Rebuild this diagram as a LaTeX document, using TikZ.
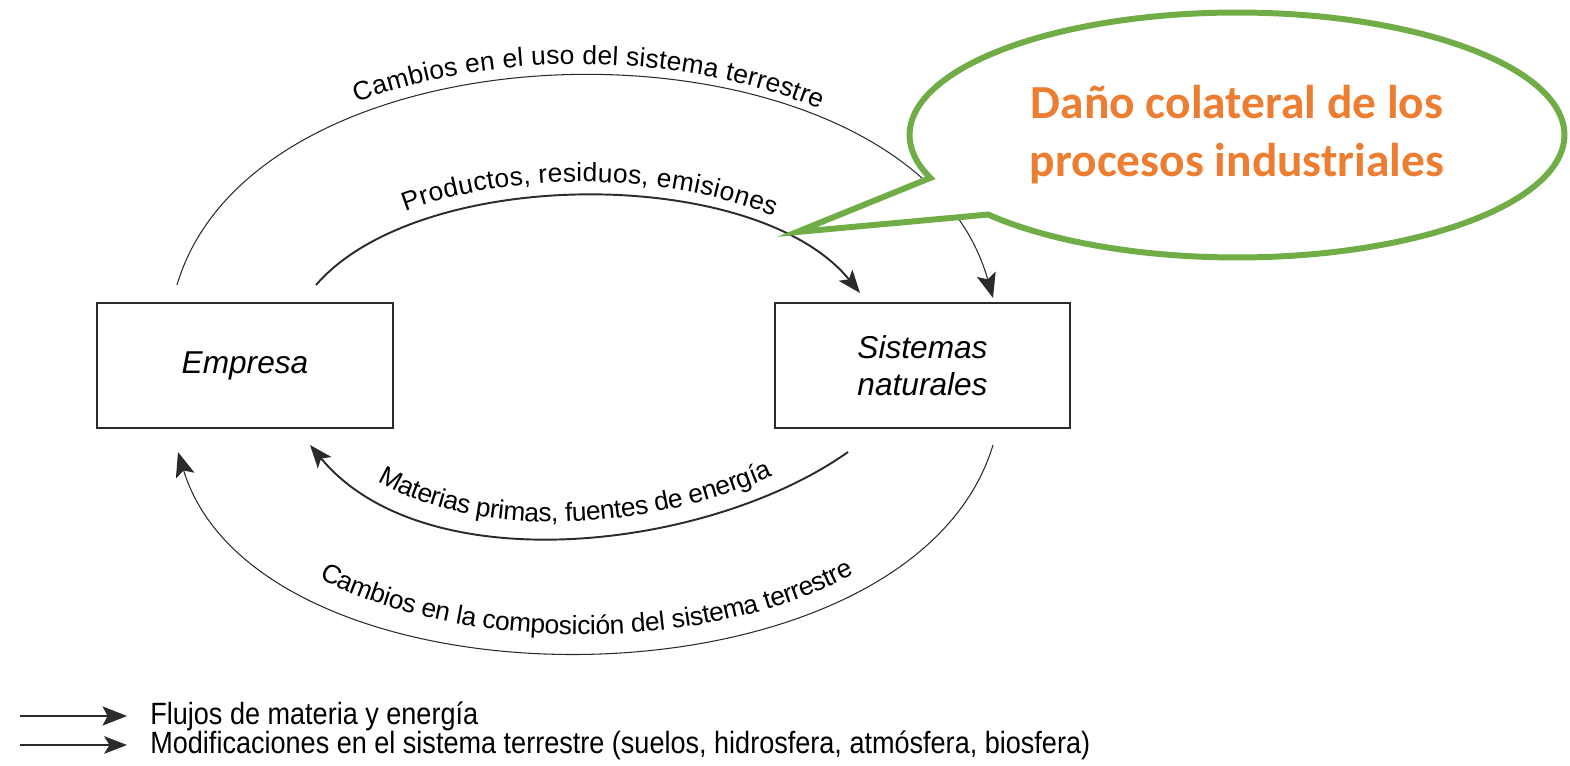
\documentclass[tikz,border=0pt]{standalone}
\usepackage{fontspec}
\setmainfont{Liberation Sans}
\newfontfamily\calloutfont{Carlito}
\newfontfamily\legendfont[FakeStretch=0.88]{Liberation Sans}
\usetikzlibrary{arrows.meta,decorations.text,shapes.callouts}
\definecolor{ink}{HTML}{2B2B2B}
\definecolor{callgreen}{HTML}{70AD47}
\definecolor{callorange}{HTML}{ED7D31}
\newcommand\arcfont{\fontsize{15}{18}\selectfont}
\tikzset{
  box/.style={draw=ink, line width=1.3pt, minimum width=5.92cm, minimum height=2.5cm,
    align=center, font=\fontsize{18}{21}\selectfont\itshape},
  thinflow/.style={draw=ink, line width=0.6pt, -{Stealth[length=14pt,width=11pt,inset=3pt]}},
  thickflow/.style={draw=ink, line width=1.1pt, -{Stealth[length=13pt,width=10pt,inset=3pt]}},
  arclabel/.style 2 args={postaction={decorate, decoration={text along path,
    text align=center, raise=#2, text={|\arcfont|#1}}}},
  arclabelrev/.style 2 args={postaction={decorate, decoration={text along path,
    reverse path, text align=center, raise=#2, text={|\arcfont|#1}}}},
  legend/.style={anchor=west, inner sep=0pt, font=\legendfont\fontsize{17.5}{20}\selectfont}
}
\begin{document}
\begin{tikzpicture}[x=0.02cm,y=-0.02cm]
\useasboundingbox (0,0) rectangle (1570,766);
\node[box] (emp) at (245,365.5) {Empresa};
\node[box, minimum width=5.9cm] (sis) at (922.5,365.5) {Sistemas\\naturales};
\coordinate (ots) at (177,285);
\coordinate (ote) at (993,298);
\coordinate (its) at (316,285);
\coordinate (ite) at (860,293);
\coordinate (ibs) at (848,452);
\coordinate (ibe) at (310,445);
\coordinate (obs) at (993,445);
\coordinate (obe) at (178,452);
\coordinate (tip) at (797,232);
\draw[thinflow, arclabel={Cambios en el uso del sistema terrestre}{7pt}]
  (ots) .. controls (260,5) and (910,5) .. (ote);
\draw[thickflow, arclabel={Productos, residuos, emisiones}{8pt}]
  (its) .. controls (420,165) and (756,165) .. (ite);
\draw[thickflow, arclabelrev={Materias primas, fuentes de energía}{9pt}]
  (ibs) .. controls (710,550) and (425,584) .. (ibe);
\draw[thinflow, arclabelrev={Cambios en la composición del sistema terrestre}{10pt}]
  (obs) .. controls (910,720) and (260,720) .. (obe);
\node[ellipse callout, draw=callgreen, fill=white, line width=3.4pt,
  minimum width=13.1cm, minimum height=4.9cm, inner sep=0pt,
  callout absolute pointer={(tip)}, callout pointer arc=20,
  align=center, text=callorange,
  font=\calloutfont\bfseries\fontsize{27}{33}\selectfont] (dano) at (1237,135)
  {Daño colateral de los\\procesos industriales};
\coordinate (la1) at (20,716);
\coordinate (lb1) at (127,716);
\coordinate (la2) at (20,745);
\coordinate (lb2) at (127,745);
\draw[thinflow] (la1) -- (lb1);
\draw[thickflow] (la2) -- (lb2);
\node[legend] (leg1) at (150,716) {Flujos de materia y energía};
\node[legend] (leg2) at (150,745) {Modificaciones en el sistema terrestre (suelos, hidrosfera, atmósfera, biosfera)};
\end{tikzpicture}
\end{document}
